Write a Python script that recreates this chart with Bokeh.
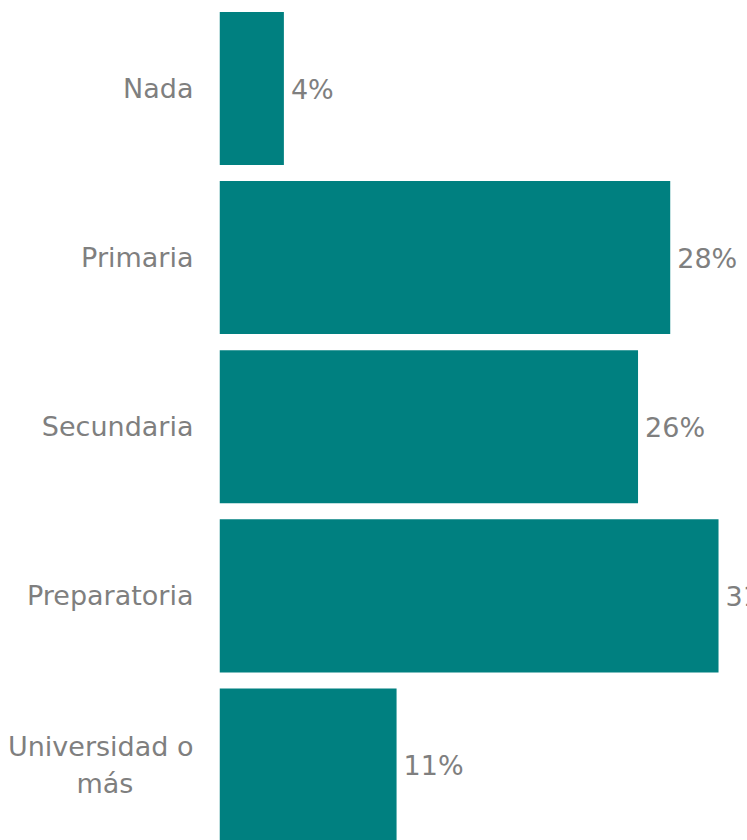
from bokeh.plotting import figure
from bokeh.models import ColumnDataSource, Range1d, FixedTicker
from bokeh.core.properties import value
from bokeh.embed import file_html
from bokeh.resources import INLINE

NB = "\u00a0"
categories = ["Nada", "Primaria", "Secundaria", "Preparatoria", "Universidad o\nmás" + NB * 7]
values = [4, 28, 26, 31, 11]
labels = ["4%", "28%", "26%", "31%", "11%"]

n = len(categories)
pos = [n - 1 - i for i in range(n)]

src = ColumnDataSource(dict(val=values, lab=labels, y=pos))

p = figure(width=747, height=840, output_backend="svg", toolbar_location=None,
           x_range=Range1d(0, 32.8), y_range=Range1d(-0.4465, n - 1 + 0.52),
           x_axis_location=None, min_border_left=219, min_border_right=0,
           min_border_top=0, min_border_bottom=0)
p.outline_line_color = None
p.grid.visible = False
p.background_fill_color = "white"
p.border_fill_color = "white"

p.hbar(y="y", left=0, right="val", height=0.905, source=src,
       fill_color="#008080", line_color=None)

p.text(x="val", y="y", text="lab", source=src, x_offset=7, y_offset=1,
       text_baseline="middle", text_align="left",
       text_font=value("DejaVu Sans"), text_font_size="27px", text_color="#7f7f7f")

ax = p.yaxis[0]
ax.ticker = FixedTicker(ticks=pos)
ax.major_label_overrides = {y: c for y, c in zip(pos, categories)}
ax.axis_line_color = None
ax.major_tick_line_color = None
ax.minor_tick_line_color = None
ax.major_label_standoff = 20
ax.major_label_text_font = "DejaVu Sans"
ax.major_label_text_font_size = "27px"
ax.major_label_text_color = "#7f7f7f"

open("out.html", "w").write(file_html(p, INLINE))
